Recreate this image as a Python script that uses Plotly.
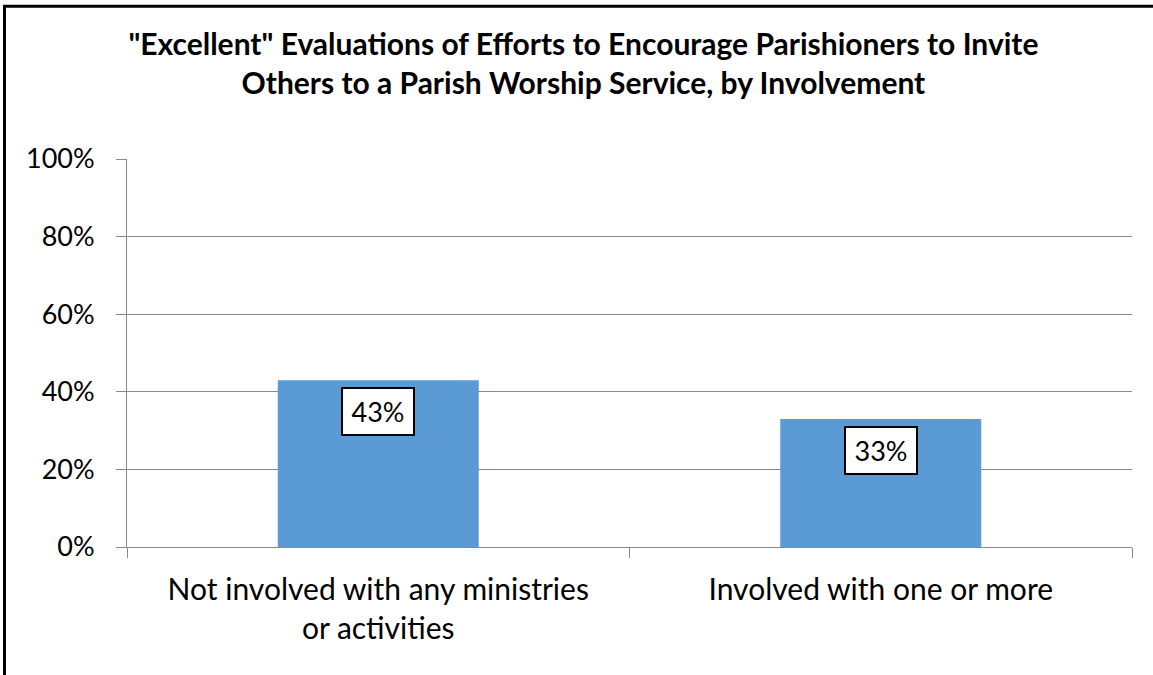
import plotly.graph_objects as go

# Share of parishioners rating the effort "Excellent", by involvement level
categories = ["Not involved with any ministries<br>or activities", "Involved with one or more"]
excellent_pct = [43, 33]
y_tick_values = [0, 20, 40, 60, 80, 100]
y_tick_labels = ["0%", "20%", "40%", "60%", "80%", "100%"]

title_text = ('"Excellent" Evaluations of Efforts to Encourage Parishioners to Invite<br>'
              'Others to a Parish Worship Service, by Involvement')

FONT = "Lato"
BAR_COLOR = "#5B9BD5"
AXIS_GRAY = "#898989"

fig = go.Figure()
fig.add_trace(go.Bar(
    x=categories,
    y=excellent_pct,
    width=0.4,
    marker=dict(color=BAR_COLOR, line=dict(width=0)),
    hoverinfo="skip",
))

# Boxed value labels placed just inside the top of each bar
for cat, val in zip(categories, excellent_pct):
    fig.add_annotation(
        x=cat, y=val, xref="x", yref="y",
        text=f"{val}%",
        showarrow=False,
        yanchor="top",
        yshift=-7,
        font=dict(family=FONT, size=27, color="black"),
        bgcolor="white",
        bordercolor="black",
        borderwidth=2,
        borderpad=4,
        width=62,
        height=37,
    )

# Outer chart frame
fig.add_shape(
    type="rect", xref="paper", yref="paper",
    x0=-0.1219, x1=1.03, y0=-0.35, y1=1.3935,
    line=dict(color="black", width=3),
    fillcolor="rgba(0,0,0,0)",
    layer="above",
)

fig.update_layout(
    width=1153, height=675,
    margin=dict(l=127, r=21, t=159, b=128),
    paper_bgcolor="white",
    plot_bgcolor="white",
    showlegend=False,
    font=dict(family=FONT, color="black"),
    title=dict(
        text=title_text,
        x=0.506, xanchor="center",
        y=0.918, yanchor="top",
        font=dict(family=FONT, size=30, color="black", weight="bold"),
    ),
    bargap=0.6,
)

fig.update_xaxes(
    type="category",
    tickson="boundaries",
    ticks="outside", ticklen=10, tickcolor=AXIS_GRAY, tickwidth=1,
    showline=True, linecolor=AXIS_GRAY, linewidth=1,
    showgrid=False,
    tickfont=dict(family=FONT, size=30, color="black"),
    ticklabelstandoff=16,
    fixedrange=True,
)

fig.update_yaxes(
    range=[0, 100],
    tickvals=y_tick_values,
    ticktext=y_tick_labels,
    ticks="outside", ticklen=10, tickcolor=AXIS_GRAY, tickwidth=1,
    showline=True, linecolor=AXIS_GRAY, linewidth=1,
    showgrid=True, gridcolor=AXIS_GRAY, gridwidth=1,
    zeroline=False,
    tickfont=dict(family=FONT, size=27, color="black"),
    ticklabelstandoff=16,
    fixedrange=True,
)

fig.write_html("out.html")
